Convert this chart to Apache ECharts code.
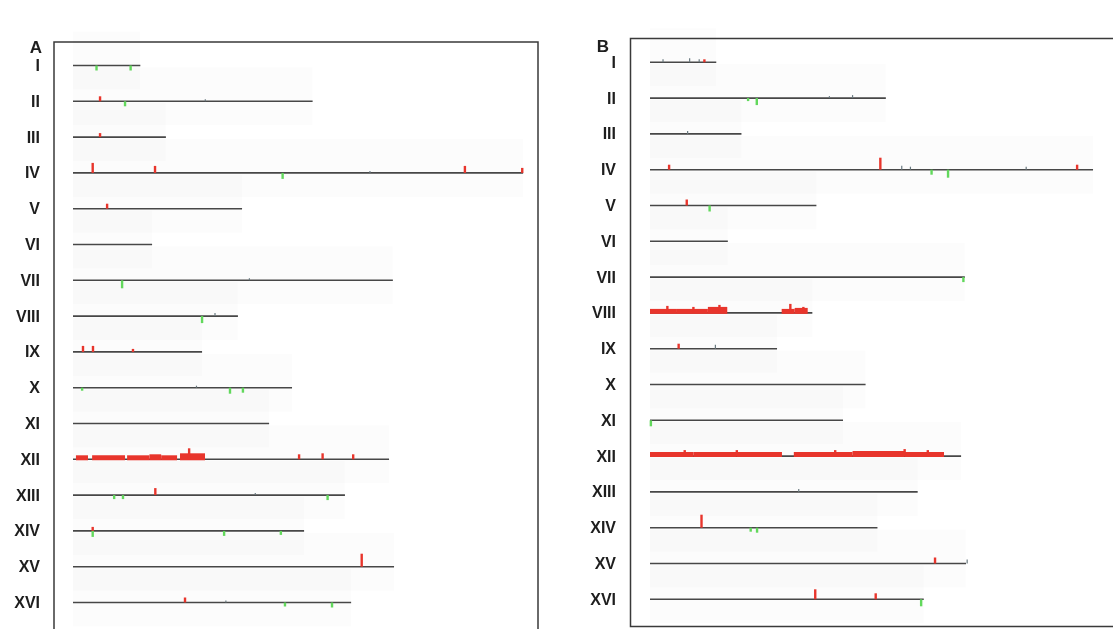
<!DOCTYPE html>
<html><head><meta charset="utf-8">
<script src="https://cdn.jsdelivr.net/npm/echarts@6/dist/echarts.min.js"></script>
<style>html,body{margin:0;padding:0;background:#fff}#c{width:1113px;height:629px}</style>
</head><body><div id="c"></div>
<script>
const chromosomes = ['I','II','III','IV','V','VI','VII','VIII','IX','X','XI','XII','XIII','XIV','XV','XVI'];
const lengthsKb = [229, 815, 316, 1531, 575, 269, 1088, 561, 439, 745, 667, 1075, 925, 786, 1092, 946];

// Spikes: [chromosome index, position kb, value (+ gain red, - loss green)]
const spikesA = [
  [0,80,-5],[0,196,-5],
  [1,92,5],[1,177,-5],
  [2,92,4],
  [3,67,10],[3,279,7],[3,713,-6],[3,1333,7],[3,1528,5],
  [4,116,5],
  [6,167,-8],
  [7,439,-7],
  [8,34,6],[8,68,6],[8,204,3],
  [9,31,-3],[9,534,-6],[9,578,-5],
  [11,395,11],[11,769,5],[11,849,6],[11,953,5],
  [12,140,-4],[12,170,-4],[12,280,7],[12,866,-5],
  [13,67,4],[13,67,-6],[13,514,-5],[13,707,-4],
  [14,982,13],
  [15,381,5],[15,721,-4],[15,881,-5]
];
const spikesB = [
  [0,188,3],
  [1,339,-3],[1,369,-7],
  [3,66,5],[3,796,12],[3,973,-5],[3,1030,-8],[3,1476,5],
  [4,127,6],[4,206,-6],
  [6,1083,-5],
  [7,60,7],[7,150,6],[7,240,8],[7,485,9],[7,530,6],
  [8,99,5],
  [10,3,-6],
  [11,120,6],[11,300,6],[11,640,6],[11,880,7],[11,960,6],
  [13,178,13],[13,348,-4],[13,370,-5],
  [14,985,6],
  [15,571,10],[15,780,6],[15,937,-7]
];
// Amplified segments: [chromosome index, start kb, end kb, level]
const blocksA = [
  [11,10,51,4],[11,65,177,4],[11,184,260,4],[11,260,300,5],[11,300,354,4],[11,364,449,6]
];
const blocksB = [
  [7,0,90,4],[7,90,200,4],[7,200,267,6],[7,455,500,4],[7,500,545,5],
  [11,0,150,4],[11,150,300,4],[11,300,456,4],[11,497,700,4],[11,700,880,5],[11,880,1016,4]
];
// Small grey noise bumps: [chromosome index, position kb, value]
const bumpsA = [[7,483,3],[3,1010,2],[12,620,2],[15,520,2],[1,450,2],[6,600,2],[9,420,2]];
const bumpsB = [[0,45,3],[0,137,4],[0,170,3],[2,130,3],[3,870,4],[3,900,3],[8,226,4],[12,514,3],[14,1096,4],[3,1300,3],[1,620,2],[1,700,3]];

const ROW = 35.8;
const NROWS = 16;
const YMAX = ROW * NROWS;
const base = i => (i + 0.5) * ROW;

const RED = '#e8352c', GREEN = '#62d85c', LINE = '#474747';

function panelSeries(idx, spikes, blocks, bumps, labelOffset) {
  const common = {type:'custom', coordinateSystem:'cartesian2d', xAxisIndex: idx, yAxisIndex: idx, silent:true, animation:false, clip:false};
  const chrData = chromosomes.map((c, i) => [i, lengthsKb[i]]);
  return [
    Object.assign({}, common, {
      z: 1,
      data: chrData,
      renderItem: (p, api) => {
        const i = api.value(0), len = api.value(1);
        const a = api.coord([0, base(i) - 34]);
        const b = api.coord([len, base(i) + 24]);
        return {type:'rect', shape:{x:a[0], y:a[1], width:b[0]-a[0], height:b[1]-a[1]}, style:{fill:'rgba(0,0,0,0.013)'}};
      }
    }),
    Object.assign({}, common, {
      z: 3,
      data: blocks,
      renderItem: (p, api) => {
        const i = api.value(0);
        const a = api.coord([api.value(1), base(i) - api.value(3)]);
        const b = api.coord([api.value(2), base(i) + 1]);
        return {type:'rect', shape:{x:a[0], y:a[1], width:b[0]-a[0], height:b[1]-a[1]}, style:{fill:RED}};
      }
    }),
    Object.assign({}, common, {
      z: 2,
      data: chrData,
      renderItem: (p, api) => {
        const i = api.value(0), len = api.value(1);
        const a = api.coord([0, base(i)]);
        const b = api.coord([len, base(i)]);
        return {type:'group', children:[
          {type:'line', shape:{x1:a[0], y1:a[1], x2:b[0], y2:b[1]}, style:{stroke:LINE, lineWidth:1.6}},
          {type:'text', x:a[0] + labelOffset, y:a[1] + 1, style:{text:chromosomes[i], align:'right', verticalAlign:'middle', font:'bold 16px "Liberation Sans", Arial, sans-serif', fill:'#1e1e1e'}}
        ]};
      }
    }),
    Object.assign({}, common, {
      z: 5,
      data: bumps,
      renderItem: (p, api) => {
        const i = api.value(0);
        const a = api.coord([api.value(1), base(i) - api.value(2)]);
        const b = api.coord([api.value(1), base(i)]);
        return {type:'line', shape:{x1:a[0], y1:a[1], x2:b[0], y2:b[1]}, style:{stroke:'#6a7a80', lineWidth:1.2}};
      }
    }),
    Object.assign({}, common, {
      z: 6,
      data: spikes,
      renderItem: (p, api) => {
        const i = api.value(0), v = api.value(2);
        const a = api.coord([api.value(1), base(i) - v]);
        const b = api.coord([api.value(1), base(i)]);
        const y0 = Math.min(a[1], b[1]), h = Math.abs(b[1] - a[1]);
        return {type:'rect', shape:{x:a[0]-1.2, y:y0, width:2.4, height:h}, style:{fill: v > 0 ? RED : GREEN}};
      }
    })
  ];
}

const chart = echarts.init(document.getElementById('c'), null, {renderer:'canvas'});
const axisX = gi => ({type:'value', gridIndex:gi, min:0, max:1600, show:false});
const axisY = gi => ({type:'value', gridIndex:gi, min:0, max:YMAX, inverse:true, show:false});
chart.setOption({
  animation:false,
  backgroundColor:'#fff',
  grid:[
    {left:73, top:47.6, width:1600*0.294, height:YMAX},
    {left:650, top:44.4, width:1600*0.2918, height:YMAX}
  ],
  xAxis:[axisX(0), axisX(1)],
  yAxis:[axisY(0), axisY(1)],
  graphic:[
    {type:'rect', shape:{x:54, y:42, width:484, height:620}, style:{fill:null, stroke:'#3a3a3a', lineWidth:1.5}, z:0, silent:true},
    {type:'rect', shape:{x:630.5, y:38.5, width:500, height:588}, style:{fill:null, stroke:'#3a3a3a', lineWidth:1.5}, z:0, silent:true},
    {type:'text', x:36, y:48, style:{text:'A', font:'bold 17px "Liberation Sans", Arial, sans-serif', fill:'#1e1e1e', align:'center', verticalAlign:'middle'}},
    {type:'text', x:603, y:47, style:{text:'B', font:'bold 17px "Liberation Sans", Arial, sans-serif', fill:'#1e1e1e', align:'center', verticalAlign:'middle'}}
  ],
  series:[].concat(
    panelSeries(0, spikesA, blocksA, bumpsA, -33),
    panelSeries(1, spikesB, blocksB, bumpsB, -34)
  )
});
</script></body></html>
